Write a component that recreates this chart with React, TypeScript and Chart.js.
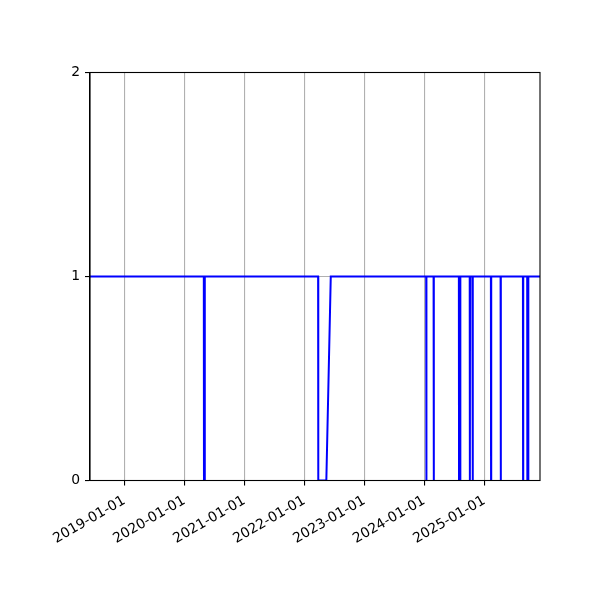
import Chart from 'chart.js/auto';
import { useEffect, useRef } from 'react';

// change points of the status series (date, value); lines join them
const pointDates = [
  '2018-06-06',
  '2020-04-29', '2020-04-30', '2020-05-04', '2020-05-05',
  '2022-03-26', '2022-03-27', '2022-05-15', '2022-06-11',
  '2024-01-13', '2024-01-14', '2024-01-15',
  '2024-02-27', '2024-02-28', '2024-02-29',
  '2024-07-30', '2024-07-31', '2024-08-07', '2024-08-08',
  '2024-10-04', '2024-10-05', '2024-10-06',
  '2024-10-20', '2024-10-21', '2024-10-23', '2024-10-24',
  '2025-02-10', '2025-02-11', '2025-02-12',
  '2025-04-10', '2025-04-11', '2025-04-12',
  '2025-08-24', '2025-08-25', '2025-08-26',
  '2025-09-19', '2025-09-20', '2025-09-25', '2025-09-26',
  '2025-12-06'
];
const pointValues = [
  1,
  1, 0, 0, 1,
  1, 0, 0, 1,
  1, 0, 1,
  1, 0, 1,
  1, 0, 0, 1,
  1, 0, 1,
  1, 0, 0, 1,
  1, 0, 1,
  1, 0, 1,
  1, 0, 1,
  1, 0, 0, 1,
  1
];
const tickDates = ['2019-01-01', '2020-01-01', '2021-01-01', '2022-01-01', '2023-01-01', '2024-01-01', '2025-01-01'];
const xStart = '2018-06-06';
const xEnd = '2025-12-06';

const DAY = 86400000;
const toDay = (s: string) => Date.parse(s + 'T00:00:00Z') / DAY;
const fromDay = (d: number) => new Date(Math.round(d) * DAY).toISOString().slice(0, 10);

const FONT = { family: '"DejaVu Sans", sans-serif', size: 13.9 };

const frame = {
  id: 'frame',
  afterDraw(chart: any) {
    const { ctx, chartArea: a } = chart;
    ctx.save();
    ctx.strokeStyle = '#000';
    ctx.lineWidth = 1.1;
    ctx.strokeRect(a.left, a.top, a.right - a.left, a.bottom - a.top);
    ctx.restore();
  }
};

export default function App() {
  const canvasRef = useRef<HTMLCanvasElement>(null);

  useEffect(() => {
    if (!canvasRef.current) return;
    const chart = new Chart(canvasRef.current, {
      type: 'line',
      data: {
        datasets: [
          {
            data: pointDates.map((d, i) => ({ x: toDay(d), y: pointValues[i] })),
            borderColor: '#0000ff',
            borderWidth: 2,
            pointRadius: 0,
            tension: 0,
            fill: false
          }
        ]
      },
      options: {
        animation: false,
        responsive: false,
        devicePixelRatio: 1,
        layout: { padding: { top: 72.5, right: 60, left: 0, bottom: 0 } },
        plugins: { legend: { display: false }, tooltip: { enabled: false } },
        scales: {
          x: {
            type: 'linear',
            min: toDay(xStart),
            max: toDay(xEnd),
            afterBuildTicks: (scale: any) => {
              scale.ticks = tickDates.map((d) => ({ value: toDay(d) }));
            },
            afterFit: (scale: any) => {
              scale.height = 119.5;
            },
            grid: { color: '#b0b0b0', lineWidth: 1.1, tickColor: '#000', tickLength: 5, tickWidth: 1.1 },
            border: { color: '#000', width: 1.1 },
            ticks: {
              autoSkip: false,
              minRotation: 30,
              maxRotation: 30,
              padding: 7,
              color: '#000',
              font: FONT,
              callback: (v: any) => fromDay(Number(v))
            }
          },
          y: {
            min: 0,
            max: 2,
            afterFit: (scale: any) => {
              scale.width = 90;
            },
            grid: { color: '#b0b0b0', lineWidth: 1.1, tickColor: '#000', tickLength: 5, tickWidth: 1.1 },
            border: { color: '#000', width: 1.1 },
            ticks: { stepSize: 1, padding: 5, color: '#000', font: FONT }
          }
        }
      },
      plugins: [frame]
    });
    return () => chart.destroy();
  }, []);

  return (
    <div style={{ position: 'fixed', left: 0, top: 0, width: 600, height: 600, background: '#fff' }}>
      <canvas ref={canvasRef} width={600} height={600} />
    </div>
  );
}
